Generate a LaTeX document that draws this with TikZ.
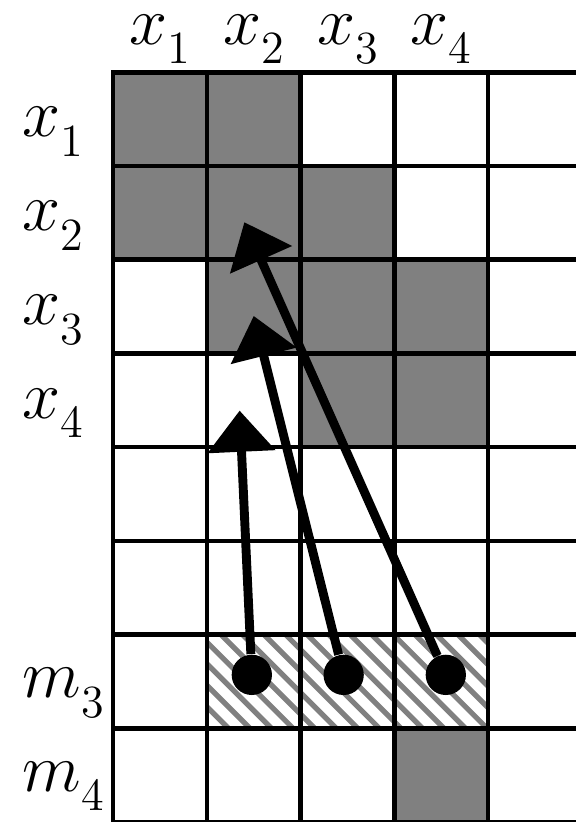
\documentclass[tikz,border=0pt]{standalone}
\usetikzlibrary{arrows.meta}

\begin{document}
\begin{tikzpicture}[x=1cm, y=-1cm]
    % Label with a lowered index
    \def\varlabel#1#2{$#1$\raisebox{-6pt}{\fontsize{14}{17}\selectfont #2}}
    % Style definitions
    \tikzset{
        % grey cell
        dark cell/.style={fill=black!50},
        % grid lines
        grid line/.style={line width=1.4pt, line cap=rect},
        % stripes of the hatched cells
        stripe/.style={draw=black!50, line width=1.6pt},
        % dots and arrows
        dot/.style={circle, fill=black, inner sep=0pt, minimum size=0.43cm},
        pointer/.style={line width=2.7pt, -{Triangle[length=12.5pt, width=20pt]}},
        % labels
        top label/.style={anchor=base, inner sep=0pt, font=\fontsize{21}{25}\selectfont},
        side label/.style={anchor=base west, inner sep=0pt, font=\fontsize{21}{25}\selectfont}
    }
    \useasboundingbox (-1.207,-0.771) rectangle (4.93,8.0);

    % Grey cells
    \foreach \c/\r in {0/0,1/0,0/1,1/1,2/1,1/2,2/2,3/2,2/3,3/3,3/7}
        \fill[dark cell] (\c,\r) rectangle ++(1,1);

    % Hatched cells
    \begin{scope}
        \clip (1,6) rectangle (4,7);
        \foreach \i in {0,0.23,...,4.1}
            \draw[stripe] (\i,6) -- ++(1,1);
    \end{scope}

    % Grid
    \foreach \x in {0,...,4}
        \draw[grid line] (\x,0) -- (\x,8.1);
    \foreach \y in {0,...,8}
        \draw[grid line] (0,\y) -- (5,\y);

    % Labels
    \foreach \i in {1,...,4} {
        \node[top label] (col\i) at (\i-0.5,-0.3) {\varlabel{x}{\i}};
        \node[side label] (row\i) at (-0.97,\i-0.31) {\varlabel{x}{\i}};
    }
    \node[side label] (row7) at (-0.97,6.67) {\varlabel{m}{3}};
    \node[side label] (row8) at (-0.97,7.67) {\varlabel{m}{4}};

    % Dots and arrow ends
    \node[dot] (d1) at (1.48,6.43) {};
    \node[dot] (d2) at (2.46,6.43) {};
    \node[dot] (d3) at (3.55,6.43) {};
    \coordinate (t1) at (1.35,3.61);
    \coordinate (t2) at (1.5,2.6);
    \coordinate (t3) at (1.4,1.6);

    % Arrows
    \draw[pointer] (d1) -- (t1);
    \draw[pointer] (d2) -- (t2);
    \draw[pointer] (d3) -- (t3);
\end{tikzpicture}
\end{document}
